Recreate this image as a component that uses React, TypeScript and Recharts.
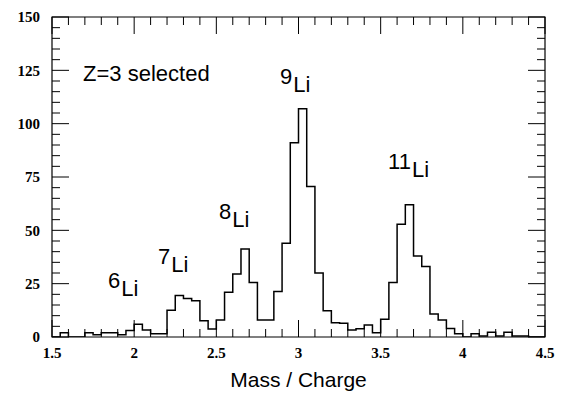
import { LineChart, Line, XAxis, YAxis, ReferenceDot, ReferenceArea } from "recharts";

// histogram bin edges (Mass / Charge) and counts per 0.05 bin
const BIN_EDGES = [
  1.5, 1.55, 1.6, 1.65, 1.7, 1.75, 1.8, 1.85, 1.9, 1.95,
  2.0, 2.05, 2.1, 2.15, 2.2, 2.25, 2.3, 2.35, 2.4, 2.45,
  2.5, 2.55, 2.6, 2.65, 2.7, 2.75, 2.8, 2.85, 2.9, 2.95,
  3.0, 3.05, 3.1, 3.15, 3.2, 3.25, 3.3, 3.35, 3.4, 3.45,
  3.5, 3.55, 3.6, 3.65, 3.7, 3.75, 3.8, 3.85, 3.9, 3.95,
  4.0, 4.05, 4.1, 4.15, 4.2, 4.25, 4.3, 4.35, 4.4, 4.45, 4.5,
];
const COUNTS = [
  0, 2, 0, 0, 2, 1, 2, 2, 1, 3,
  6, 3.3, 1.5, 1.5, 12.5, 19.5, 18, 17, 7.6, 3.7,
  8, 21, 29.5, 41.3, 25.6, 8, 8, 21.3, 44, 91,
  107, 70.5, 30, 12.3, 6.7, 6.5, 3.3, 3.9, 5.6, 2,
  8.3, 25.5, 52.8, 62, 38, 33, 10.8, 8, 4, 1.5,
  0, 1.5, 0.5, 2.2, 0.5, 2.2, 0.5, 0.5, 0, 0,
];

const X_LABEL_TICKS = [1.5, 2, 2.5, 3, 3.5, 4, 4.5];
const X_MINOR_TICKS = [
  1.6, 1.7, 1.8, 1.9, 2.1, 2.2, 2.3, 2.4, 2.6, 2.7, 2.8, 2.9,
  3.1, 3.2, 3.3, 3.4, 3.6, 3.7, 3.8, 3.9, 4.1, 4.2, 4.3, 4.4,
];
const Y_LABEL_TICKS = [0, 25, 50, 75, 100, 125, 150];
const Y_MINOR_TICKS = [
  5, 10, 15, 20, 30, 35, 40, 45, 55, 60, 65, 70, 80, 85, 90, 95,
  105, 110, 115, 120, 130, 135, 140, 145,
];

const PEAK_LABELS = [
  { mass: "6", x: 1.841, y: 19.2 },
  { mass: "7", x: 2.145, y: 30.5 },
  { mass: "8", x: 2.516, y: 51.6 },
  { mass: "9", x: 2.888, y: 114.9 },
  { mass: "11", x: 3.545, y: 75 },
];
const NOTE = { text: "Z=3 selected", x: 1.689, y: 120 };

const data = BIN_EDGES.map((x, i) => ({
  x,
  count: COUNTS[Math.min(i, COUNTS.length - 1)],
}));

const W = 568;
const H = 394;
// axes below take 1px each, so the plot box is 52..545 x 17..337
const MARGIN = { top: 17, right: 23, bottom: 56, left: 51 };
const PLOT_TOP = MARGIN.top;
const PLOT_BOTTOM = H - MARGIN.bottom - 1;
const PLOT_LEFT = MARGIN.left + 1;
const PLOT_RIGHT = W - MARGIN.right;
const MAJOR_LEN = 17;
const MINOR_LEN = 8;

const SANS = "'Liberation Sans', Arial, sans-serif";
const SERIF = "'Liberation Serif', serif";
const X_DOMAIN: [number, number] = [1.5, 4.5];
const Y_DOMAIN: [number, number] = [0, 150];

// ticks go inward on both opposite sides, labels only on the major ones
const XTick = ({ x, payload }: any) => {
  const major = X_LABEL_TICKS.includes(payload.value);
  const len = major ? MAJOR_LEN : MINOR_LEN;
  return (
    <g>
      <line x1={x} x2={x} y1={PLOT_BOTTOM} y2={PLOT_BOTTOM - len} stroke="#000" />
      <line x1={x} x2={x} y1={PLOT_TOP} y2={PLOT_TOP + len} stroke="#000" />
      {major && (
        <text x={x} y={PLOT_BOTTOM + 10} dy="0.71em" textAnchor="middle"
          fontFamily={SERIF} fontWeight={700} fontSize={15} fill="#000">
          {payload.value}
        </text>
      )}
    </g>
  );
};

const YTick = ({ y, payload }: any) => {
  const major = Y_LABEL_TICKS.includes(payload.value);
  const len = major ? MAJOR_LEN : MINOR_LEN;
  return (
    <g>
      <line x1={PLOT_LEFT} x2={PLOT_LEFT + len} y1={y} y2={y} stroke="#000" />
      <line x1={PLOT_RIGHT} x2={PLOT_RIGHT - len} y1={y} y2={y} stroke="#000" />
      {major && (
        <text x={PLOT_LEFT - 12} y={y} dy="0.355em" textAnchor="end"
          fontFamily={SERIF} fontWeight={700} fontSize={15} fill="#000">
          {payload.value}
        </text>
      )}
    </g>
  );
};

export default function App() {
  return (
    <div style={{ position: "absolute", left: 0, top: 0, background: "#fff" }}>
      <LineChart width={W} height={H} data={data} margin={MARGIN}>
        <XAxis
          dataKey="x"
          type="number"
          domain={X_DOMAIN}
          allowDataOverflow
          ticks={[...X_LABEL_TICKS, ...X_MINOR_TICKS]}
          interval={0}
          height={1}
          tickSize={0}
          axisLine={false}
          tickLine={false}
          tick={<XTick />}
          label={{
            value: "Mass / Charge",
            position: "bottom",
            offset: 34,
            style: { fontFamily: SANS, fontSize: 21, fill: "#000" },
          }}
        />
        <YAxis
          type="number"
          domain={Y_DOMAIN}
          allowDataOverflow
          ticks={[...Y_LABEL_TICKS, ...Y_MINOR_TICKS]}
          interval={0}
          width={1}
          tickSize={0}
          axisLine={false}
          tickLine={false}
          tick={<YTick />}
        />

        <ReferenceArea
          x1={X_DOMAIN[0]}
          x2={X_DOMAIN[1]}
          y1={Y_DOMAIN[0]}
          y2={Y_DOMAIN[1]}
          fill="none"
          stroke="#000"
          strokeWidth={1.2}
          ifOverflow="visible"
        />

        <Line
          type="stepAfter"
          dataKey="count"
          stroke="#000"
          strokeWidth={1.5}
          dot={false}
          activeDot={false}
          isAnimationActive={false}
        />

        <ReferenceDot
          x={NOTE.x}
          y={NOTE.y}
          ifOverflow="visible"
          shape={(p: any) => (
            <text x={p.cx} y={p.cy} fontFamily={SANS} fontSize={22} fill="#000">
              {NOTE.text}
            </text>
          )}
        />
        {PEAK_LABELS.map((a) => (
          <ReferenceDot
            key={a.mass}
            x={a.x}
            y={a.y}
            ifOverflow="visible"
            shape={(p: any) => (
              <text x={p.cx} y={p.cy} fontFamily={SANS} fontSize={22} fill="#000">
                <tspan dy={-8}>{a.mass}</tspan>
                <tspan dy={8} dx={1}>Li</tspan>
              </text>
            )}
          />
        ))}
      </LineChart>
    </div>
  );
}
